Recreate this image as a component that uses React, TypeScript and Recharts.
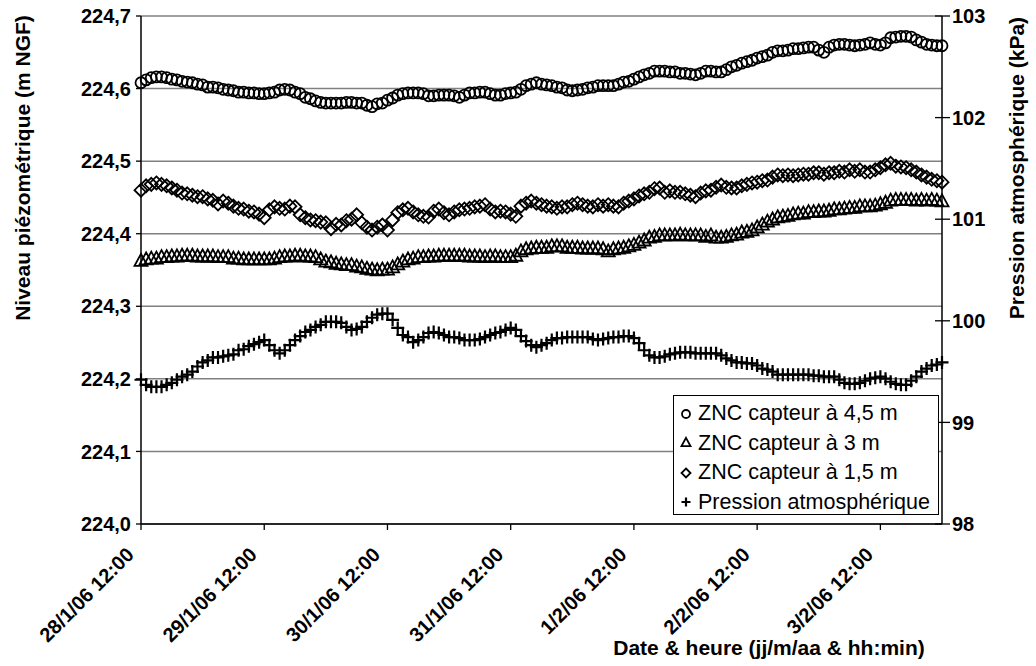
import React from 'react';
import { ComposedChart, Line, XAxis, YAxis, CartesianGrid, Legend } from 'recharts';

const FONT = '"Liberation Sans", Arial, sans-serif';

// hourly readings from 28/1/06 12:00 to 4/2/06 00:00
const CAPTEUR_45 = [
  224.608, 224.612, 224.615, 224.616, 224.616, 224.615, 224.613, 224.612, 224.610, 224.609, 224.608, 224.606, 224.605, 224.602, 224.602, 224.601, 224.599, 224.598, 224.597, 224.595, 224.595, 224.594, 224.594, 224.593,
  224.593, 224.594, 224.595, 224.598, 224.599, 224.598, 224.595, 224.593, 224.588, 224.586, 224.583, 224.581, 224.580, 224.580, 224.580, 224.580, 224.581, 224.581, 224.580, 224.580, 224.577, 224.575, 224.579, 224.580,
  224.584, 224.587, 224.591, 224.593, 224.594, 224.594, 224.594, 224.593, 224.590, 224.590, 224.591, 224.591, 224.591, 224.590, 224.588, 224.591, 224.594, 224.594, 224.595, 224.595, 224.593, 224.591, 224.591, 224.593,
  224.594, 224.595, 224.599, 224.604, 224.606, 224.608, 224.606, 224.605, 224.604, 224.602, 224.601, 224.598, 224.597, 224.598, 224.599, 224.601, 224.602, 224.604, 224.604, 224.604, 224.604, 224.606, 224.609, 224.610,
  224.613, 224.616, 224.619, 224.621, 224.624, 224.624, 224.624, 224.623, 224.623, 224.621, 224.621, 224.620, 224.619, 224.621, 224.624, 224.624, 224.623, 224.623, 224.626, 224.630, 224.632, 224.635, 224.637, 224.639,
  224.642, 224.644, 224.646, 224.650, 224.652, 224.652, 224.653, 224.655, 224.655, 224.656, 224.657, 224.657, 224.653, 224.650, 224.657, 224.660, 224.661, 224.661, 224.660, 224.659, 224.660, 224.661, 224.663, 224.661,
  224.660, 224.663, 224.670, 224.671, 224.672, 224.672, 224.671, 224.667, 224.664, 224.661, 224.660, 224.659, 224.659,
];

const CAPTEUR_3 = [
  224.362, 224.364, 224.365, 224.365, 224.367, 224.367, 224.368, 224.368, 224.369, 224.369, 224.369, 224.368, 224.368, 224.368, 224.368, 224.367, 224.367, 224.367, 224.365, 224.365, 224.364, 224.364, 224.364, 224.364,
  224.364, 224.364, 224.365, 224.367, 224.368, 224.368, 224.369, 224.369, 224.368, 224.368, 224.367, 224.364, 224.361, 224.360, 224.358, 224.357, 224.356, 224.356, 224.354, 224.353, 224.351, 224.350, 224.349, 224.350,
  224.350, 224.353, 224.357, 224.361, 224.364, 224.365, 224.367, 224.367, 224.368, 224.368, 224.369, 224.369, 224.369, 224.369, 224.369, 224.369, 224.368, 224.368, 224.368, 224.367, 224.368, 224.368, 224.367, 224.367,
  224.367, 224.369, 224.375, 224.378, 224.379, 224.380, 224.380, 224.380, 224.382, 224.382, 224.382, 224.380, 224.380, 224.380, 224.379, 224.379, 224.379, 224.379, 224.378, 224.375, 224.378, 224.379, 224.380, 224.382,
  224.384, 224.387, 224.390, 224.394, 224.395, 224.397, 224.397, 224.397, 224.397, 224.398, 224.397, 224.397, 224.397, 224.397, 224.395, 224.397, 224.394, 224.394, 224.395, 224.397, 224.398, 224.401, 224.402, 224.404,
  224.408, 224.412, 224.416, 224.419, 224.422, 224.423, 224.424, 224.426, 224.427, 224.427, 224.429, 224.429, 224.430, 224.430, 224.431, 224.433, 224.433, 224.434, 224.435, 224.435, 224.437, 224.437, 224.437, 224.438,
  224.440, 224.442, 224.445, 224.446, 224.446, 224.446, 224.446, 224.445, 224.446, 224.445, 224.446, 224.445, 224.444,
];

const CAPTEUR_15 = [
  224.460, 224.466, 224.468, 224.470, 224.468, 224.466, 224.463, 224.460, 224.456, 224.455, 224.453, 224.451, 224.451, 224.448, 224.446, 224.441, 224.445, 224.442, 224.438, 224.435, 224.434, 224.431, 224.430, 224.427,
  224.422, 224.433, 224.437, 224.435, 224.434, 224.438, 224.437, 224.426, 224.422, 224.419, 224.418, 224.416, 224.415, 224.407, 224.413, 224.412, 224.418, 224.420, 224.426, 224.415, 224.409, 224.405, 224.409, 224.412,
  224.405, 224.419, 224.429, 224.433, 224.435, 224.430, 224.426, 224.424, 224.423, 224.431, 224.434, 224.429, 224.426, 224.430, 224.433, 224.434, 224.435, 224.437, 224.438, 224.440, 224.434, 224.430, 224.431, 224.430,
  224.427, 224.424, 224.438, 224.442, 224.445, 224.442, 224.440, 224.438, 224.437, 224.435, 224.437, 224.437, 224.440, 224.442, 224.440, 224.438, 224.437, 224.440, 224.438, 224.440, 224.438, 224.437, 224.442, 224.445,
  224.448, 224.452, 224.455, 224.457, 224.462, 224.463, 224.457, 224.459, 224.457, 224.457, 224.455, 224.453, 224.451, 224.456, 224.459, 224.460, 224.464, 224.467, 224.464, 224.463, 224.463, 224.466, 224.468, 224.470,
  224.471, 224.473, 224.474, 224.478, 224.481, 224.480, 224.481, 224.480, 224.481, 224.482, 224.482, 224.484, 224.484, 224.482, 224.484, 224.484, 224.486, 224.485, 224.488, 224.486, 224.488, 224.485, 224.485, 224.488,
  224.491, 224.495, 224.497, 224.493, 224.492, 224.491, 224.488, 224.485, 224.481, 224.478, 224.475, 224.473, 224.471,
];

// kPa, right axis
const PRESSION = [
  99.42, 99.37, 99.35, 99.35, 99.35, 99.37, 99.39, 99.42, 99.45, 99.47, 99.50, 99.55, 99.59, 99.61, 99.64, 99.64, 99.65, 99.66, 99.67, 99.71, 99.72, 99.75, 99.77, 99.79,
  99.81, 99.76, 99.71, 99.68, 99.71, 99.76, 99.81, 99.85, 99.89, 99.91, 99.94, 99.96, 99.99, 99.99, 99.99, 99.98, 99.94, 99.91, 99.92, 99.94, 99.99, 100.03, 100.06, 100.07,
  100.07, 100.01, 99.93, 99.86, 99.84, 99.79, 99.81, 99.84, 99.88, 99.89, 99.88, 99.86, 99.84, 99.84, 99.83, 99.81, 99.81, 99.81, 99.82, 99.84, 99.86, 99.88, 99.89, 99.91,
  99.93, 99.91, 99.85, 99.80, 99.76, 99.74, 99.76, 99.78, 99.81, 99.83, 99.83, 99.84, 99.84, 99.84, 99.84, 99.84, 99.82, 99.81, 99.82, 99.83, 99.84, 99.84, 99.85, 99.85,
  99.83, 99.78, 99.71, 99.66, 99.64, 99.64, 99.65, 99.67, 99.68, 99.69, 99.69, 99.69, 99.68, 99.68, 99.68, 99.68, 99.68, 99.66, 99.63, 99.61, 99.59, 99.59, 99.58, 99.58,
  99.56, 99.53, 99.52, 99.50, 99.47, 99.47, 99.47, 99.47, 99.47, 99.47, 99.47, 99.46, 99.46, 99.45, 99.45, 99.45, 99.42, 99.39, 99.38, 99.38, 99.39, 99.41, 99.43, 99.44,
  99.45, 99.43, 99.40, 99.38, 99.37, 99.37, 99.41, 99.45, 99.50, 99.53, 99.56, 99.57, 99.59,
];

const X_TICKS = [0, 24, 48, 72, 96, 120, 144];
const X_TICK_LABELS = ['28/1/06 12:00', '29/1/06 12:00', '30/1/06 12:00', '31/1/06 12:00', '1/2/06 12:00', '2/2/06 12:00', '3/2/06 12:00'];
const LEFT_TICKS = [224.0, 224.1, 224.2, 224.3, 224.4, 224.5, 224.6, 224.7];
const RIGHT_TICKS = [98, 99, 100, 101, 102, 103];
const SERIES_NAMES = ['ZNC capteur à 4,5 m', 'ZNC capteur à 3 m', 'ZNC capteur à 1,5 m', 'Pression atmosphérique'];

const data = CAPTEUR_45.map((v, i) => ({
  h: i,
  c45: v,
  c3: CAPTEUR_3[i],
  c15: CAPTEUR_15[i],
  p: PRESSION[i],
}));

const mk = { fill: 'none', stroke: '#000', strokeWidth: 1.8 };

const CircleMark = ({ cx, cy, r = 5.5 }: any) => <circle cx={cx} cy={cy} r={r} {...mk} />;
const TriangleMark = ({ cx, cy, s = 6.5 }: any) => (
  <path d={`M${cx},${cy - s * 1.15}L${cx + s},${cy + s * 0.7}L${cx - s},${cy + s * 0.7}Z`} {...mk} />
);
const DiamondMark = ({ cx, cy, s = 6.5 }: any) => (
  <path d={`M${cx},${cy - s}L${cx + s},${cy}L${cx},${cy + s}L${cx - s},${cy}Z`} {...mk} />
);
const PlusMark = ({ cx, cy, s = 6.5 }: any) => (
  <path d={`M${cx - s},${cy}H${cx + s}M${cx},${cy - s}V${cy + s}`} fill="none" stroke="#000" strokeWidth={2.2} />
);

const MARKS = [CircleMark, TriangleMark, DiamondMark, PlusMark];

const XTick = ({ x, y, payload }: any) => {
  const idx = X_TICKS.indexOf(payload.value);
  return (
    <g transform={`translate(${x - 6},${y + 24})`}>
      <text transform="rotate(-45)" textAnchor="end" fontFamily={FONT} fontSize={20} fontWeight="bold" fill="#000">
        {X_TICK_LABELS[idx]}
      </text>
    </g>
  );
};

const RightTick = ({ x, y, payload }: any) => (
  <g>
    <line x1={x - 17} x2={x - 10} y1={y} y2={y} stroke="#000" strokeWidth={1.3} />
    <text x={x} y={y} dy="0.36em" textAnchor="start" fontFamily={FONT} fontSize={20} fontWeight="bold" fill="#000">
      {payload.value}
    </text>
  </g>
);

const LegendBox = () => (
  <div
    style={{
      border: '1.5px solid #000',
      background: '#fff',
      padding: '3px 0 0 5px',
      height: 120,
      boxSizing: 'border-box',
      fontFamily: FONT,
      fontSize: 21.5,
      color: '#000',
    }}
  >
    {SERIES_NAMES.map((name, i) => {
      const M = MARKS[i];
      return (
        <div key={name} style={{ display: 'flex', alignItems: 'center', height: 29.5, whiteSpace: 'nowrap' }}>
          <svg width={14} height={14} style={{ marginRight: 5 }}>
            <M cx={7} cy={7} r={4} s={4.5} />
          </svg>
          <span>{name}</span>
        </div>
      );
    })}
  </div>
);

const titleStyle = { fontFamily: FONT, fontSize: 21, fontWeight: 'bold' as const, fill: '#000' };

export default function App() {
  const keys = ['c45', 'c3', 'c15', 'p'];
  return (
    <div style={{ position: 'absolute', left: 0, top: 0, width: 1036, height: 666, background: '#fff' }}>
      <ComposedChart width={1036} height={666} data={data} margin={{ top: 16, right: 0, bottom: 0, left: 0 }}>
        <CartesianGrid yAxisId="left" vertical={false} stroke="#808080" strokeWidth={1.5} />
        <XAxis
          dataKey="h"
          type="number"
          domain={[0, 156]}
          ticks={X_TICKS}
          interval={0}
          height={142}
          tickSize={6}
          tickMargin={2}
          axisLine={{ stroke: '#000', strokeWidth: 1.5 }}
          tickLine={{ stroke: '#000', strokeWidth: 1.3 }}
          tick={<XTick />}
          label={{
            content: () => (
              <text x={769} y={655} textAnchor="middle" {...titleStyle}>
                Date &amp; heure (jj/m/aa &amp; hh:min)
              </text>
            ),
          }}
        />
        <YAxis
          yAxisId="left"
          width={141}
          domain={[224, 224.7]}
          ticks={LEFT_TICKS}
          interval={0}
          tickSize={5}
          tickMargin={5}
          tickFormatter={(v: number) => v.toFixed(1).replace('.', ',')}
          axisLine={{ stroke: '#000', strokeWidth: 1.5 }}
          tickLine={{ stroke: '#000', strokeWidth: 1.3 }}
          tick={{ fontFamily: FONT, fontSize: 20, fontWeight: 'bold', fill: '#000' }}
          label={{
            content: () => (
              <text x={22} y={168} transform="rotate(-90, 22, 168)" textAnchor="middle" dominantBaseline="central" {...titleStyle}>
                Niveau piézométrique (m NGF)
              </text>
            ),
          }}
        />
        <YAxis
          yAxisId="right"
          orientation="right"
          width={94}
          domain={[98, 103]}
          ticks={RIGHT_TICKS}
          interval={0}
          tickSize={8}
          tickMargin={2}
          axisLine={{ stroke: '#000', strokeWidth: 1.5 }}
          tickLine={{ stroke: '#000', strokeWidth: 1.3 }}
          tick={<RightTick />}
          label={{
            content: () => (
              <text x={1016} y={168} transform="rotate(-90, 1016, 168)" textAnchor="middle" dominantBaseline="central" {...titleStyle}>
                Pression atmosphérique (kPa)
              </text>
            ),
          }}
        />
        {keys.map((k, i) => {
          const M = MARKS[i];
          return (
            <Line
              key={k}
              yAxisId={k === 'p' ? 'right' : 'left'}
              dataKey={k}
              name={SERIES_NAMES[i]}
              stroke="none"
              isAnimationActive={false}
              activeDot={false}
              dot={(p: any) => <M key={`${k}-${p.index}`} cx={p.cx} cy={p.cy} />}
            />
          );
        })}
        <Legend
          layout="vertical"
          align="center"
          verticalAlign="middle"
          content={() => <LegendBox />}
          wrapperStyle={{ left: 673, top: 395, width: 266, height: 120 }}
        />
      </ComposedChart>
    </div>
  );
}
